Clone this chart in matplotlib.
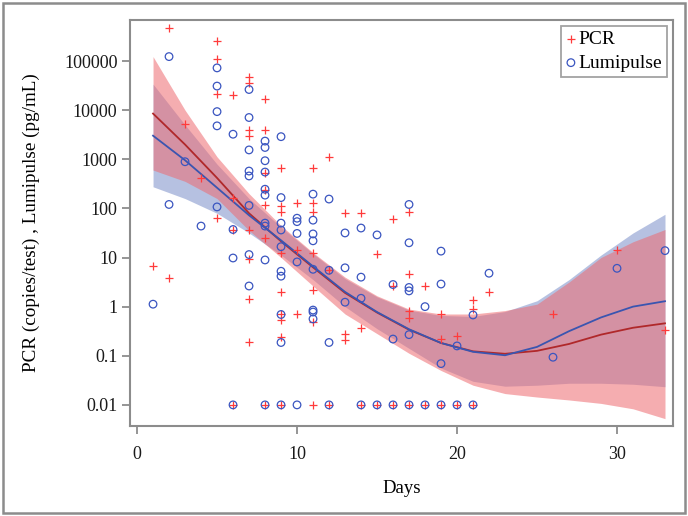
import numpy as np
import matplotlib.pyplot as plt
from matplotlib.patches import Rectangle

plt.rcParams['font.family'] = ['Liberation Serif', 'DejaVu Serif']

# observed points, log10 values; -2 means 0.01 (below detection)
pcr_day = [1, 2, 2, 3, 4, 5, 5, 5, 5, 6, 6, 6, 6,
           7, 7, 7, 7, 7, 7, 7, 7, 8, 8, 8, 8, 8, 8, 8,
           9, 9, 9, 9, 9, 9, 9, 9, 9, 10, 10, 10,
           11, 11, 11, 11, 11, 11, 11, 12, 12, 12, 13, 13, 13, 14, 14, 14,
           15, 15, 16, 16, 16, 17, 17, 17, 17, 17, 18, 18, 19, 19, 19,
           20, 20, 21, 21, 21, 22, 26, 30, 33]
pcr_log = [0.82, 5.67, 0.59, 3.72, 2.61, 5.41, 5.05, 4.33, 1.80, 4.31, 2.22, 1.57, -2,
           4.67, 4.55, 3.59, 3.48, 1.57, 0.97, 0.15, -0.72, 4.22, 3.59, 2.72, 2.37, 2.07, 1.39, -2,
           2.83, 2.05, 1.93, 1.10, 0.30, -0.16, -0.27, -0.61, -2, 2.11, 1.16, -0.14,
           2.83, 2.10, 1.93, 1.10, 0.34, -0.31, -2, 3.05, 0.74, -2, 1.90, -0.56, -0.68, 1.90, -0.44, -2,
           1.08, -2, 1.78, 0.42, -2, 1.93, 0.66, -0.09, -0.24, -2, 0.42, -2, -0.14, -0.66, -2,
           -0.60, -2, 0.13, -0.04, -2, 0.30, -0.16, 1.16, -0.48]

lumi_day = [1, 2, 2, 3, 4, 5, 5, 5, 5, 5, 6, 6, 6, 6,
            7, 7, 7, 7, 7, 7, 7, 7, 8, 8, 8, 8, 8, 8, 8, 8, 8, 8,
            9, 9, 9, 9, 9, 9, 9, 9, 9, 9, 10, 10, 10, 10, 10,
            11, 11, 11, 11, 11, 11, 11, 11, 12, 12, 12, 12, 13, 13, 13,
            14, 14, 14, 14, 15, 15, 16, 16, 16, 17, 17, 17, 17, 17, 17,
            18, 18, 19, 19, 19, 19, 20, 20, 21, 21, 22, 26, 30, 33]
lumi_log = [0.05, 5.09, 2.08, 2.95, 1.64, 4.86, 4.49, 3.97, 3.68, 2.03, 3.51, 1.57, 0.99, -2,
            4.42, 3.85, 3.19, 2.76, 2.66, 2.06, 1.06, 0.42, 3.37, 3.24, 2.97, 2.74, 2.39, 2.27, 1.70, 1.64, 0.95, -2,
            3.46, 2.22, 1.70, 1.56, 1.22, 0.72, 0.62, -0.16, -0.73, -2, 1.80, 1.73, 1.49, 0.91, -2,
            2.29, 1.76, 1.48, 1.34, 0.76, -0.07, -0.11, -0.25, 2.19, 0.74, -0.73, -2, 1.50, 0.79, 0.09,
            1.60, 0.60, 0.17, -2, 1.46, -2, 0.45, -0.66, -2, 2.08, 1.30, 0.39, 0.32, -0.57, -2,
            0.0, -2, 1.13, 0.46, -1.16, -2, -0.80, -2, -0.17, -2, 0.68, -1.03, 0.78, 1.14]

# fitted curves and confidence bands (log10), read at these days
fit_day = [1, 3, 5, 7, 9, 11, 13, 15, 17, 19, 21, 23, 25, 27, 29, 31, 33]
pcr_fit = [3.93, 3.30, 2.62, 1.90, 1.33, 0.80, 0.28, -0.12, -0.47, -0.74, -0.91, -0.96, -0.90, -0.76, -0.57, -0.43, -0.34]
pcr_hi = [5.09, 4.00, 3.05, 2.30, 1.65, 1.10, 0.60, 0.22, -0.05, -0.15, -0.15, -0.08, 0.05, 0.50, 1.00, 1.32, 1.57]
pcr_lo = [2.78, 2.55, 2.20, 1.55, 1.00, 0.42, -0.15, -0.55, -0.95, -1.30, -1.60, -1.77, -1.84, -1.90, -1.97, -2.08, -2.28]
lumi_fit = [3.48, 2.98, 2.42, 1.86, 1.35, 0.82, 0.30, -0.11, -0.46, -0.74, -0.92, -0.99, -0.82, -0.50, -0.22, 0.00, 0.11]
lumi_hi = [4.53, 3.70, 2.90, 2.20, 1.62, 1.08, 0.57, 0.20, -0.07, -0.18, -0.20, -0.10, 0.12, 0.55, 1.05, 1.50, 1.88]
lumi_lo = [2.44, 2.20, 1.90, 1.50, 1.05, 0.55, 0.00, -0.45, -0.85, -1.25, -1.52, -1.62, -1.60, -1.56, -1.56, -1.58, -1.63]

yticks = [100000, 10000, 1000, 100, 10, 1, 0.1, 0.01]
ylabels = ['100000', '10000', '1000', '100', '10', '1', '0.1', '0.01']

p = lambda v: 10 ** np.array(v)

fig = plt.figure(figsize=(6.88, 5.16), dpi=100)
ax = fig.add_axes([130 / 688, 90 / 516, 543 / 688, 406 / 516])

ax.fill_between(fit_day, p(lumi_lo), p(lumi_hi), color='#7B8FC9', alpha=0.55, lw=0)
ax.fill_between(fit_day, p(pcr_lo), p(pcr_hi), color='#EE6A70', alpha=0.55, lw=0)
ax.plot(fit_day, p(pcr_fit), color='#B0282A', lw=1.3)
ax.plot(fit_day, p(lumi_fit), color='#3A55B0', lw=1.3)

ax.scatter(pcr_day, p(pcr_log), marker='+', s=30, color='#FF3B3B', lw=0.9, label='PCR', zorder=3)
ax.scatter(lumi_day, p(lumi_log), marker='o', s=30, facecolors='none', edgecolors='#3A55C0',
           lw=0.9, label='Lumipulse', zorder=3)

ax.set_yscale('log')
ax.set_xlim(-0.44, 33.5)
ax.set_ylim(10 ** -2.43, 10 ** 5.835)
ax.set_yticks(yticks)
ax.set_yticklabels(ylabels)
ax.minorticks_off()
ax.set_xticks([0, 10, 20, 30])

for s in ax.spines.values():
    s.set_color('#8c8c8c')
    s.set_linewidth(1.5)
ax.tick_params(length=5.5, width=1.3, color='#8c8c8c', labelsize=13, labelcolor='#1a1a1a')
ax.tick_params(axis='x', pad=9)
ax.tick_params(axis='y', pad=3.5)

ax.set_xlabel('Days', fontsize=13.5, labelpad=12)
ax.set_ylabel('PCR (copies/test) , Lumipulse (pg/mL)', fontsize=13.8, labelpad=17)

leg = ax.legend(loc='upper right', fontsize=14, frameon=True, fancybox=False,
                handletextpad=0.15, borderpad=0.25, handlelength=0.5, labelspacing=0.3,
                borderaxespad=0.3)
leg.get_frame().set_edgecolor('#8c8c8c')
leg.get_frame().set_linewidth(1.3)

fig.add_artist(Rectangle((3 / 688, 3 / 516), 682 / 688, 510 / 516, transform=fig.transFigure,
                         fill=False, edgecolor='#8c8c8c', lw=1.8))

fig.savefig('out.png', dpi=100)
